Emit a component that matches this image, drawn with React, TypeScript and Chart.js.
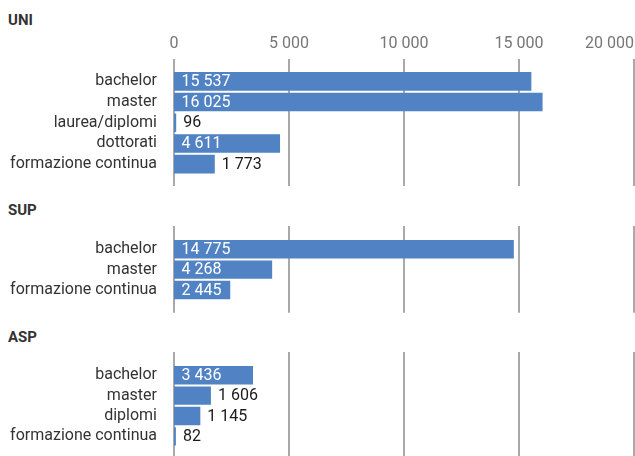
import React, { useEffect, useRef } from 'react';
import { Chart, registerables } from 'chart.js';

Chart.register(...registerables);

// ---- data ----
const panelTitles = ['UNI', 'SUP', 'ASP'];
const uniCategories = ['bachelor', 'master', 'laurea/diplomi', 'dottorati', 'formazione continua'];
const uniValues = [15537, 16025, 96, 4611, 1773];
const supCategories = ['bachelor', 'master', 'formazione continua'];
const supValues = [14775, 4268, 2445];
const aspCategories = ['bachelor', 'master', 'diplomi', 'formazione continua'];
const aspValues = [3436, 1606, 1145, 82];
const xMin = 0;
const xMax = 20000;
const xStep = 5000;

// ---- layout (pixels) ----
const layouts = [
  { top: 0, height: 190, areaTop: 71, pitch: 20.7, extTop: 12, extBottom: 11.5, showTicks: true, titleTop: 11.9 },
  { top: 200, height: 120, areaTop: 39, pitch: 20.4, extTop: 13, extBottom: 12.5, showTicks: false, titleTop: 201.9 },
  { top: 320, height: 136, areaTop: 45, pitch: 20.4, extTop: 13, extBottom: 12, showTicks: false, titleTop: 328.6 },
];

const BAR = '#5183c4';
const GRID = '#8c8c8c';
const W = 635;
const FONT_SIZE = 16;

const fmt = (v: number) => String(v).replace(/\B(?=(\d{3})+(?!\d))/g, ' ');

const gridPlugin = (extTop: number, extBottom: number) => ({
  id: 'extGrid',
  beforeDatasetsDraw(chart: any) {
    const s = chart.scales.x;
    const { top, bottom } = chart.chartArea;
    const ctx = chart.ctx;
    ctx.save();
    ctx.strokeStyle = GRID;
    ctx.lineWidth = 1.5;
    s.ticks.forEach((t: any) => {
      const x = s.getPixelForValue(t.value);
      ctx.beginPath();
      ctx.moveTo(x, top - extTop);
      ctx.lineTo(x, bottom + extBottom);
      ctx.stroke();
    });
    ctx.restore();
  },
});

const valueLabelPlugin = {
  id: 'valueLabels',
  afterDatasetsDraw(chart: any) {
    const ctx = chart.ctx;
    const meta = chart.getDatasetMeta(0);
    const data = chart.data.datasets[0].data as number[];
    ctx.save();
    ctx.font = FONT_SIZE + 'px Roboto';
    ctx.textBaseline = 'middle';
    ctx.textAlign = 'left';
    meta.data.forEach((el: any, i: number) => {
      const txt = fmt(data[i]);
      const w = ctx.measureText(txt).width;
      const start = Math.min(el.base, el.x);
      const end = Math.max(el.base, el.x);
      if (end - start >= w + 14) {
        ctx.fillStyle = '#ffffff';
        ctx.fillText(txt, start + 7.5, el.y + 0.5);
      } else {
        ctx.fillStyle = '#1a1a1a';
        ctx.fillText(txt, end + 7, el.y + 0.5);
      }
    });
    ctx.restore();
  },
};

const lastTickPlugin = {
  id: 'lastTickRight',
  beforeDraw(chart: any) {
    const s: any = chart.scales.x;
    if (!s || !s.options.ticks.display || !s.getLabelItems) return;
    const items = s.getLabelItems();
    const it = items && items[items.length - 1];
    if (it && it.options) it.options.textAlign = 'right';
  },
};

const datasets = [
  { categories: uniCategories, values: uniValues },
  { categories: supCategories, values: supValues },
  { categories: aspCategories, values: aspValues },
];

export default function App() {
  const r0 = useRef<HTMLCanvasElement>(null);
  const r1 = useRef<HTMLCanvasElement>(null);
  const r2 = useRef<HTMLCanvasElement>(null);
  const refs = [r0, r1, r2];

  useEffect(() => {
    const charts: Chart[] = [];
    datasets.forEach((d, idx) => {
      const L = layouts[idx];
      const canvas = refs[idx].current;
      if (!canvas) return;
      const areaBottom = L.areaTop + L.pitch * d.categories.length;
      const chart = new Chart(canvas, {
        type: 'bar',
        data: {
          labels: d.categories,
          datasets: [
            {
              data: d.values,
              backgroundColor: BAR,
              borderWidth: 0,
              barPercentage: 0.9,
              categoryPercentage: 1,
            },
          ],
        },
        options: {
          indexAxis: 'y',
          responsive: false,
          animation: false,
          events: [],
          layout: { padding: { top: 0, bottom: L.height - areaBottom, left: 0, right: 1 } },
          plugins: {
            legend: { display: false },
            tooltip: { enabled: false },
            title: { display: false },
          },
          scales: {
            x: {
              type: 'linear',
              position: 'top',
              min: xMin,
              max: xMax,
              grid: { display: false, drawTicks: false },
              border: { display: false },
              ticks: {
                display: L.showTicks,
                stepSize: xStep,
                color: '#777777',
                font: { family: 'Roboto', size: FONT_SIZE },
                padding: 17.5,
                maxRotation: 0,
                autoSkip: false,
                callback: (v: any) => fmt(Number(v)),
              },
              afterFit: (s: any) => {
                s.height = L.areaTop;
                s.paddingLeft = 0;
                s.paddingRight = 0;
                s.paddingTop = 0;
                s.paddingBottom = 0;
              },
            },
            y: {
              type: 'category',
              grid: { display: false, drawTicks: false },
              border: { display: false },
              ticks: {
                color: '#333333',
                font: { family: 'Roboto', size: FONT_SIZE },
                padding: 17,
                autoSkip: false,
              },
              afterFit: (s: any) => {
                s.width = 174;
                s.paddingTop = 0;
                s.paddingBottom = 0;
                s.paddingLeft = 0;
                s.paddingRight = 0;
              },
            },
          },
        } as any,
        plugins: [gridPlugin(L.extTop, L.extBottom), valueLabelPlugin, lastTickPlugin],
      });
      charts.push(chart);
    });
    return () => charts.forEach((c) => c.destroy());
  }, []);

  return (
    <div style={{ position: 'absolute', left: 0, top: 0, width: W, height: 456, overflow: 'hidden', background: '#fff' }}>
      {layouts.map((L, i) => (
        <div
          key={'t' + i}
          style={{
            position: 'absolute',
            left: 8,
            top: L.titleTop,
            font: 'bold 15px Roboto',
            lineHeight: '16px',
            color: '#333333',
          }}
        >
          {panelTitles[i]}
        </div>
      ))}
      {layouts.map((L, i) => (
        <canvas
          key={'c' + i}
          ref={refs[i]}
          width={W}
          height={L.height}
          style={{ position: 'absolute', left: 0, top: L.top, width: W, height: L.height }}
        />
      ))}
    </div>
  );
}
